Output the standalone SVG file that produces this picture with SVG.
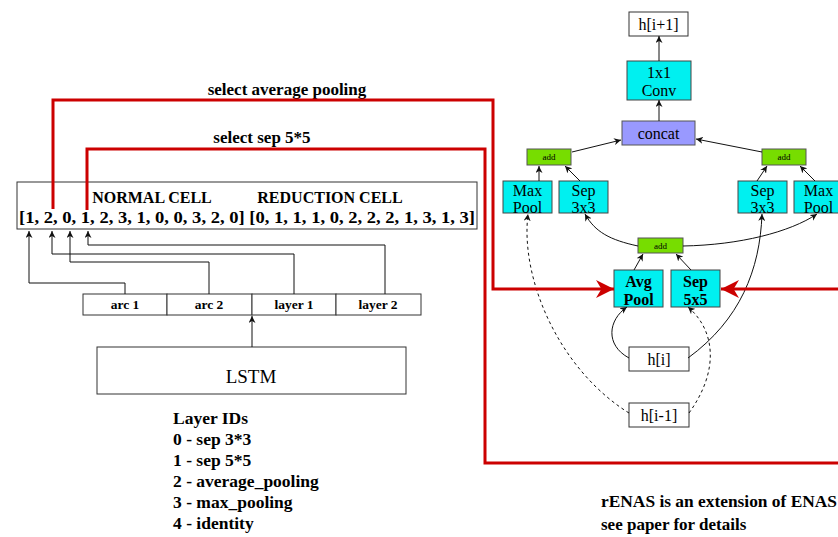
<svg xmlns="http://www.w3.org/2000/svg" width="838" height="537" viewBox="0 0 838 537">
<defs>
<style>
.t{font-family:"Liberation Serif","Times New Roman",serif;fill:#000}
.b{font-weight:bold}
.box{fill:#fff;stroke:#333;stroke-width:1}
.cyan{fill:#00f0f0;stroke:#444;stroke-width:1}
.grn{fill:#77dd00;stroke:#555;stroke-width:1}
.e{fill:none;stroke:#111;stroke-width:1}
.d{stroke-dasharray:3,3}
.red{fill:none;stroke:#cc0000;stroke-width:3}
</style>
<marker id="ah" viewBox="0 0 10 10" refX="10" refY="5" markerWidth="7" markerHeight="7" orient="auto" markerUnits="userSpaceOnUse"><path d="M0,0 L10,5 L0,10 L3,5 z" fill="#111"/></marker>
<marker id="rh" viewBox="0 0 10 10" refX="10" refY="5" markerWidth="22" markerHeight="18" orient="auto" markerUnits="userSpaceOnUse"><path d="M0,0 L10,5 L0,10 L3,5 z" fill="#cc0000"/></marker>
</defs>
<rect width="838" height="537" fill="#fff"/>

<g id="cell">
<rect class="box" x="17" y="182" width="460" height="47"/>
<text class="t b" x="152" y="203" font-size="16" text-anchor="middle">NORMAL CELL</text>
<text class="t b" x="330" y="203" font-size="16" text-anchor="middle">REDUCTION CELL</text>
<text class="t b" x="19" y="223" font-size="17" textLength="456" lengthAdjust="spacingAndGlyphs">[1, 2, 0, 1, 2, 3, 1, 0, 0, 3, 2, 0] [0, 1, 1, 1, 0, 2, 2, 2, 1, 3, 1, 3]</text>
</g>

<g id="outputs">
<rect class="box" x="83" y="294" width="84" height="21"/>
<rect class="box" x="167" y="294" width="85" height="21"/>
<rect class="box" x="252" y="294" width="84" height="21"/>
<rect class="box" x="336" y="294" width="85" height="21"/>
<text class="t b" x="125" y="309" font-size="13.5" text-anchor="middle">arc 1</text>
<text class="t b" x="209" y="309" font-size="13.5" text-anchor="middle">arc 2</text>
<text class="t b" x="294" y="309" font-size="13.5" text-anchor="middle">layer 1</text>
<text class="t b" x="378" y="309" font-size="13.5" text-anchor="middle">layer 2</text>
</g>

<g id="lstm">
<rect class="box" x="97" y="347" width="309" height="47"/>
<text class="t" x="251" y="383" font-size="19" text-anchor="middle">LSTM</text>
</g>

<g id="legend">
<text class="t b" x="173" y="424" font-size="17.5">Layer IDs</text>
<text class="t b" x="173" y="445" font-size="17.5">0 - sep 3*3</text>
<text class="t b" x="173" y="466" font-size="17.5">1 - sep 5*5</text>
<text class="t b" x="173" y="487" font-size="17.5">2 - average_pooling</text>
<text class="t b" x="173" y="508" font-size="17.5">3 - max_pooling</text>
<text class="t b" x="173" y="529" font-size="17.5">4 - identity</text>
</g>

<g id="labels">
<text class="t b" x="287" y="95" font-size="17" text-anchor="middle">select average pooling</text>
<text class="t b" x="262" y="143" font-size="17" text-anchor="middle">select sep 5*5</text>
<text class="t b" x="601" y="507" font-size="17" textLength="236" lengthAdjust="spacingAndGlyphs">rENAS is an extension of ENAS</text>
<text class="t b" x="601" y="530" font-size="17">see paper for details</text>
</g>

<g id="n_hi1"><rect class="box" x="629" y="12" width="59" height="24"/><text class="t" x="658.5" y="30" font-size="16" text-anchor="middle">h[i+1]</text></g>
<g id="n_conv"><rect class="cyan" x="627" y="61" width="64" height="39"/><text class="t" x="659" y="78" font-size="16" text-anchor="middle">1x1</text><text class="t" x="659" y="96" font-size="16" text-anchor="middle">Conv</text></g>
<g id="n_concat"><rect x="622" y="121" width="73" height="24" fill="#9999ff" stroke="#555"/><text class="t" x="658.5" y="139" font-size="16" text-anchor="middle">concat</text></g>
<g id="n_addL"><rect class="grn" x="527" y="149" width="44" height="16"/><text class="t" x="549" y="160" font-size="9" text-anchor="middle">add</text></g>
<g id="n_addR"><rect class="grn" x="762" y="149" width="44" height="16"/><text class="t" x="784" y="160" font-size="9" text-anchor="middle">add</text></g>
<g id="n_maxL"><rect class="cyan" x="503" y="181" width="49" height="32"/><text class="t" x="527.5" y="196" font-size="16" text-anchor="middle">Max</text><text class="t" x="527.5" y="213" font-size="16" text-anchor="middle">Pool</text></g>
<g id="n_sepL"><rect class="cyan" x="559" y="181" width="49" height="32"/><text class="t" x="583.5" y="196" font-size="16" text-anchor="middle">Sep</text><text class="t" x="583.5" y="213" font-size="16" text-anchor="middle">3x3</text></g>
<g id="n_sepR"><rect class="cyan" x="738" y="181" width="49" height="32"/><text class="t" x="762.5" y="196" font-size="16" text-anchor="middle">Sep</text><text class="t" x="762.5" y="213" font-size="16" text-anchor="middle">3x3</text></g>
<g id="n_maxR"><rect class="cyan" x="794" y="181" width="49" height="32"/><text class="t" x="818.5" y="196" font-size="16" text-anchor="middle">Max</text><text class="t" x="818.5" y="213" font-size="16" text-anchor="middle">Pool</text></g>
<g id="n_addM"><rect class="grn" x="638" y="238" width="45" height="15"/><text class="t" x="660.5" y="249" font-size="9" text-anchor="middle">add</text></g>
<g id="n_avg"><rect class="cyan" x="614" y="270" width="49" height="37"/><text class="t b" x="638.5" y="287" font-size="16" text-anchor="middle">Avg</text><text class="t b" x="638.5" y="305" font-size="16" text-anchor="middle">Pool</text></g>
<g id="n_sep5"><rect class="cyan" x="671" y="270" width="49" height="37"/><text class="t b" x="695.5" y="287" font-size="16" text-anchor="middle">Sep</text><text class="t b" x="695.5" y="305" font-size="16" text-anchor="middle">5x5</text></g>
<g id="n_hi"><rect class="box" x="629" y="347" width="60" height="24"/><text class="t" x="659" y="365" font-size="16" text-anchor="middle">h[i]</text></g>
<g id="n_him1"><rect class="box" x="629" y="403" width="60" height="24"/><text class="t" x="659" y="421" font-size="16" text-anchor="middle">h[i-1]</text></g>

<g id="connectors">
<path class="e" marker-end="url(#ah)" d="M125,294 V283 H29 V231"/>
<path class="e" marker-end="url(#ah)" d="M209,294 V262 H70 V231"/>
<path class="e" marker-end="url(#ah)" d="M294,294 V254 H52 V231"/>
<path class="e" marker-end="url(#ah)" d="M385,294 V245 H88 V231"/>
<path class="e" marker-end="url(#ah)" d="M252,347 V316"/>

<path class="e" marker-end="url(#ah)" d="M659,61 V36"/>
<path class="e" marker-end="url(#ah)" d="M659,121 V100"/>
<path class="e" marker-end="url(#ah)" d="M572,152 L621,140"/>
<path class="e" marker-end="url(#ah)" d="M762,152 L696,139"/>
<path class="e" marker-end="url(#ah)" d="M539,181 V166"/>
<path class="e" marker-end="url(#ah)" d="M580,181 L565,166"/>
<path class="e" marker-end="url(#ah)" d="M757,181 L767,166"/>
<path class="e" marker-end="url(#ah)" d="M815,181 L800,166"/>
<path class="e" marker-end="url(#ah)" d="M638,246 C610,240 595,232 585,214"/>
<path class="e" marker-end="url(#ah)" d="M683,246 C740,245 790,232 817,214"/>
<path class="e" marker-end="url(#ah)" d="M634,270 L643,254"/>
<path class="e" marker-end="url(#ah)" d="M691,270 L676,254"/>
<path class="e" marker-end="url(#ah)" d="M629,358 C605,345 608,320 627,307"/>
<path class="e" marker-end="url(#ah)" d="M688,358 C740,320 760,270 762,214"/>
<path class="e d" marker-end="url(#ah)" d="M629,413 C560,370 520,280 528,214"/>
<path class="e d" marker-end="url(#ah)" d="M689,413 C720,370 715,330 688,307"/>

<path class="red" marker-end="url(#rh)" d="M53,209 V100 H493 V289 H614"/>
<path class="red" d="M87,210 V149 H485 V463 H840"/>
<path class="red" marker-end="url(#rh)" d="M840,289 H721"/>
</g>
</svg>
